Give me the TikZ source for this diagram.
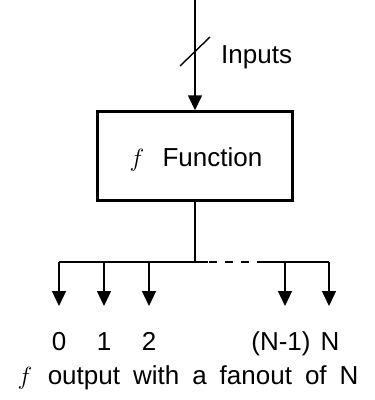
\documentclass[tikz,border=0pt]{standalone}
\usepackage{fontspec}
\setmainfont{Liberation Sans}
\usetikzlibrary{arrows.meta}
\newcommand{\bigf}{{\fontsize{30}{34}\selectfont$f$}}
\begin{document}
\begin{tikzpicture}[x=1pt,y=-1pt,
  wire/.style={line width=1.4pt},
  tip/.style={-{Triangle[width=14pt,length=15pt]}},
  lbl/.style={font=\fontsize{26}{30}\selectfont, inner sep=0pt},
  fbox/.style={draw, line width=2.4pt, minimum width=195pt, minimum height=89pt, inner sep=0pt}]
\useasboundingbox (0,0) rectangle (375,400);
\coordinate (top) at (195,0);
\node[fbox] (F) at (195,156) {};
\node[lbl, anchor=base] (ftxt) at (196,166) {\bigf\hspace{0.7em}Function};
\draw[wire, tip] (top) -- (F.north);
\coordinate (s1) at (180,66);
\coordinate (s2) at (210,37);
\draw[wire] (s1) -- (s2);
\node[lbl, anchor=west] (inp) at (221,57) {Inputs};
\coordinate (j) at (195,262);
\draw[wire] (F.south) -- (j);
\coordinate (b0) at (59,262);
\coordinate (b1) at (104,262);
\coordinate (b2) at (149,262);
\coordinate (b3) at (285,262);
\coordinate (b4) at (329,262);
\coordinate (d1) at (208,262);
\coordinate (d2) at (263,262);
\coordinate (e0) at (59,306);
\coordinate (e1) at (104,306);
\coordinate (e2) at (149,306);
\coordinate (e3) at (285,306);
\coordinate (e4) at (329,306);
\draw[wire] (b0) -- (d1);
\draw[wire, dash pattern=on 8pt off 8pt, dash phase=-1pt] (d1) -- (d2);
\draw[wire] (d2) -- (b4);
\foreach \i in {0,...,4} { \draw[wire, tip] (b\i) -- (e\i); }
\node[lbl, anchor=base] (l0) at (59,350) {0};
\node[lbl, anchor=base] (l1) at (104,350) {1};
\node[lbl, anchor=base] (l2) at (149,350) {2};
\node[lbl, anchor=base] (l3) at (281,350) {(N-1)};
\node[lbl, anchor=base] (l4) at (330,350) {N};
\node[lbl, anchor=base] (cap) at (188,384) {\bigf\hspace{0.6em}output\hspace{0.5em}with\hspace{0.5em}a\hspace{0.5em}fanout\hspace{0.5em}of\hspace{0.5em}N};
\end{tikzpicture}
\end{document}
